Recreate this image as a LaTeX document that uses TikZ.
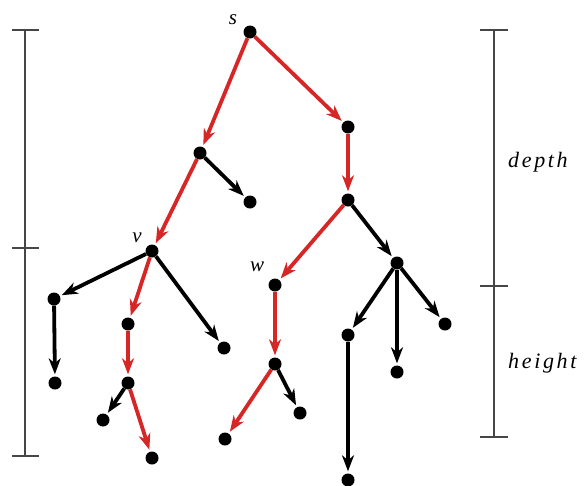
\documentclass[tikz,border=0pt]{standalone}
\usepackage{fontspec}
\setmainfont{Liberation Serif}
\newfontfamily\sidefont[LetterSpace=12]{Liberation Serif Italic}
\newfontfamily\labfont{Liberation Serif Italic}
\usetikzlibrary{arrows.meta}
\definecolor{edgered}{RGB}{214,38,38}
\definecolor{bargray}{RGB}{70,70,70}
\begin{document}
\begin{tikzpicture}[x=1pt,y=-1pt,
  dot/.style={circle,fill=black,inner sep=0pt,minimum size=13pt},
  tedge/.style={line width=3.8pt,-{Stealth[length=16pt,width=12pt,inset=5pt]},shorten >=2pt},
  redge/.style={tedge,draw=edgered,color=edgered},
  bedge/.style={tedge,draw=black},
  bar/.style={line width=1.8pt,draw=bargray},
  lab/.style={font=\labfont\fontsize{21}{23}\selectfont,inner sep=0pt},
  side/.style={font=\sidefont\fontsize{22}{24}\selectfont,inner sep=0pt}]
\useasboundingbox (0,0) rectangle (585,485);
% nodes
\node[dot] (s) at (250,32) {};
\node[dot] (a) at (348,127) {};
\node[dot] (b) at (200,153) {};
\node[dot] (c) at (250,202) {};
\node[dot] (d) at (348,200) {};
\node[dot] (v) at (152,251) {};
\node[dot] (e) at (397,263) {};
\node[dot] (w) at (275,285) {};
\node[dot] (f) at (54,299) {};
\node[dot] (g) at (128,324) {};
\node[dot] (h) at (224,348) {};
\node[dot] (i) at (348,335) {};
\node[dot] (j) at (445,324) {};
\node[dot] (k) at (55,383) {};
\node[dot] (l) at (128,383) {};
\node[dot] (m) at (275,364) {};
\node[dot] (n) at (397,372) {};
\node[dot] (o) at (103,420) {};
\node[dot] (p) at (152,458) {};
\node[dot] (q) at (300,413) {};
\node[dot] (r) at (225,439) {};
\node[dot] (t) at (348,480) {};
% labels
\node[lab] (ls) at (233,20) {s};
\node[lab] (lv) at (137,238) {v};
\node[lab] (lw) at (257,267) {w};
% red path edges
\draw[redge] (s) -- (b);
\draw[redge] (s) -- (a);
\draw[redge] (a) -- (d);
\draw[redge] (b) -- (v);
\draw[redge] (d) -- (w);
\draw[redge] (v) -- (g);
\draw[redge] (g) -- (l);
\draw[redge] (l) -- (p);
\draw[redge] (w) -- (m);
\draw[redge] (m) -- (r);
% black edges
\draw[bedge] (b) -- (c);
\draw[bedge] (d) -- (e);
\draw[bedge] (v) -- (f);
\draw[bedge] (v) -- (h);
\draw[bedge] (f) -- (k);
\draw[bedge] (l) -- (o);
\draw[bedge] (m) -- (q);
\draw[bedge] (e) -- (i);
\draw[bedge] (e) -- (n);
\draw[bedge] (e) -- (j);
\draw[bedge] (i) -- (t);
% left bar
\coordinate (L1) at (25,30);
\coordinate (L2) at (25,248);
\coordinate (L3) at (25,456);
\draw[bar] (L1) -- (L3);
\draw[bar] ([xshift=-13pt]L1) -- ([xshift=14pt]L1);
\draw[bar] ([xshift=-13pt]L2) -- ([xshift=14pt]L2);
\draw[bar] ([xshift=-13pt]L3) -- ([xshift=14pt]L3);
% right bar
\coordinate (R1) at (494,30);
\coordinate (R2) at (494,286);
\coordinate (R3) at (494,437);
\draw[bar] (R1) -- (R3);
\draw[bar] ([xshift=-14pt]R1) -- ([xshift=14pt]R1);
\draw[bar] ([xshift=-14pt]R2) -- ([xshift=14pt]R2);
\draw[bar] ([xshift=-14pt]R3) -- ([xshift=14pt]R3);
\node[side,anchor=base west] (depth) at (508,167) {depth};
\node[side,anchor=base west] (height) at (508,368) {height};
\end{tikzpicture}
\end{document}
